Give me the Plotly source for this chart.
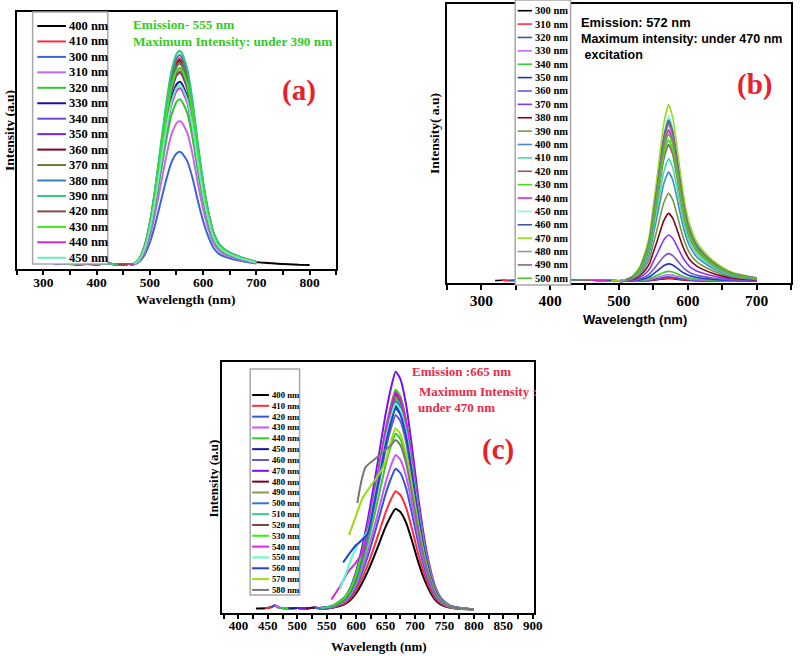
import plotly.graph_objects as go

W, H = 803, 656          # target window (body margin removed below)

# ---------------- Panel (a) data ----------------
ex_a = [400, 410, 300, 310, 320, 330, 340, 350, 360, 370, 380, 390, 420, 430, 440, 450]
col_a = ['#000000', '#ff2a3a', '#3a64d8', '#c866f2', '#2ec82e', '#14149a', '#6a4ad0', '#7a22ea',
         '#86002e', '#6b7a32', '#3a7ec0', '#30c87a', '#8a4a4a', '#3ee61e', '#d02ad0', '#66eebb']
peak_a = [0.81, 0.817, 0.448, 0.570, 0.655, 0.725, 0.76, 0.797, 0.778, 0.80, 0.83, 0.847,
          0.764, 0.78, 0.699, 0.712]
base_wl_a = [320, 340, 360, 380, 400, 420, 440, 460]
base_val_a = [0.004, 0.006, 0.003, 0.005, 0.004, 0.006, 0.003, 0.005]
wl_a = [470, 480, 490, 500, 510, 520, 530, 540, 550, 556, 560, 570, 580, 590, 600, 610, 620,
        630, 640, 650, 660, 670, 680, 690, 700]
prof_a = [0.006, 0.03, 0.09, 0.2, 0.36, 0.55, 0.74, 0.9, 0.985, 1.0, 0.99, 0.92, 0.77, 0.57, 0.39,
          0.25, 0.15, 0.1, 0.075, 0.06, 0.048, 0.038, 0.03, 0.022, 0.015]
tail_wl_a = [720, 740, 760, 780, 800]
tail_val_a = [0.009, 0.006, 0.004, 0.002, 0.001]

# ---------------- Panel (b) data ----------------
ex_b = [300, 310, 320, 330, 340, 350, 360, 370, 380, 390, 400, 410, 420, 430, 440, 450, 460,
        470, 480, 490, 500]
col_b = ['#000000', '#ff2a3a', '#3355cc', '#cc66ee', '#33cc33', '#2233cc', '#7755cc', '#8833ee',
         '#880022', '#779944', '#4488cc', '#44ddaa', '#995566', '#44dd22', '#dd22cc', '#77ffdd',
         '#4455aa', '#99dd22', '#8899aa', '#886688', '#55bb33']
peak_b = [0.01, 0.012, 0.016, 0.024, 0.036, 0.063, 0.10, 0.167, 0.245, 0.317, 0.394, 0.442,
          0.493, 0.51, 0.546, 0.594, 0.582, 0.637, 0.565, 0.574, 0.532]
base_wl_b = [320, 330, 340, 360, 380, 400, 420, 440, 460, 480, 490]
base_val_b = [0.003, 0.004, 0.003, 0.004, 0.003, 0.004, 0.003, 0.005, 0.004, 0.003, 0.004]
wl_b = [500, 510, 520, 530, 540, 545, 550, 555, 560, 565, 572, 578, 583, 590, 595, 602, 612,
        621, 636, 650, 665, 680, 700]
prof_b = [0.004, 0.01, 0.03, 0.08, 0.19, 0.28, 0.43, 0.58, 0.74, 0.89, 1.0, 0.93, 0.8, 0.59, 0.46,
          0.33, 0.23, 0.18, 0.12, 0.08, 0.05, 0.035, 0.02]

# ---------------- Panel (c) data ----------------
ex_c = [400, 410, 420, 430, 440, 450, 460, 470, 480, 490, 500, 510, 520, 530, 540, 550, 560,
        570, 580]
col_c = ['#000000', '#ff2a3a', '#3355dd', '#cc55ff', '#33cc22', '#1a1a99', '#6655dd', '#7711ee',
         '#770022', '#889955', '#3377cc', '#33cc88', '#774444', '#33ee11', '#dd22dd', '#55ffcc',
         '#2244cc', '#99dd11', '#777777']
peak_c = [0.406, 0.477, 0.568, 0.624, 0.71, 0.822, 0.786, 0.961, 0.873, 0.853, 0.842, 0.863,
          0.868, 0.889, 0.88, 0.832, 0.812, 0.731, 0.685]
base_wl_c = [430, 445, 455, 462, 470, 485, 500, 515, 530]
base_val_c = [0.003, 0.004, 0.008, 0.015, 0.006, 0.004, 0.005, 0.004, 0.006]
wl_c = [540, 560, 580, 590, 600, 610, 620, 630, 640, 650, 660, 667, 675, 685, 695, 705, 715,
        725, 735, 745, 760, 780, 800]
prof_c = [0.006, 0.015, 0.05, 0.09, 0.16, 0.26, 0.38, 0.52, 0.67, 0.82, 0.94, 1.0, 0.97, 0.86,
          0.68, 0.48, 0.31, 0.18, 0.09, 0.045, 0.015, 0.004, 0.0]
# curves excited near the emission band start high on the blue side
lead_ex_c = [540, 550, 560, 570, 580]
lead_wl_c = [[558, 572, 586, 600], [572, 582, 591, 605], [578, 590, 600, 610],
             [588, 600, 611, 625, 640], [602, 609, 616, 633, 650, 660]]
lead_val_c = [[0.04, 0.09, 0.15, 0.19], [0.08, 0.14, 0.2, 0.27], [0.19, 0.23, 0.26, 0.28],
              [0.30, 0.38, 0.45, 0.50, 0.55], [0.43, 0.52, 0.575, 0.61, 0.645, 0.665]]
lead_join_c = [610, 620, 620, 650, 667]


def px(x):
    return x / W


def py(y):
    return 1 - y / H


fig = go.Figure()
SM = 0.5

# ---- traces (a)
for ex, c, pk in zip(ex_a, col_a, peak_a):
    start = ex + 20
    xs = [w for w in base_wl_a if w >= start]
    ys = [v for w, v in zip(base_wl_a, base_val_a) if w >= start]
    xs += wl_a
    ys += [pk * p for p in prof_a]
    if ex == 400:
        xs += tail_wl_a
        ys += tail_val_a
    fig.add_trace(go.Scatter(x=xs, y=ys, mode='lines', line=dict(color=c, width=2, shape='spline', smoothing=SM),
                             xaxis='x', yaxis='y', showlegend=False, name=f'{ex} nm'))

# ---- traces (b)
for ex, c, pk in zip(ex_b, col_b, peak_b):
    start = ex + 20
    xs = [w for w in base_wl_b if w >= start]
    ys = [v for w, v in zip(base_wl_b, base_val_b) if w >= start]
    xs += [w for w in wl_b if w >= start]
    ys += [pk * p for w, p in zip(wl_b, prof_b) if w >= start]
    fig.add_trace(go.Scatter(x=xs, y=ys, mode='lines', line=dict(color=c, width=1.6, shape='spline', smoothing=SM),
                             xaxis='x2', yaxis='y2', showlegend=False, name=f'{ex} nm'))

# ---- traces (c)
for ex, c, pk in zip(ex_c, col_c, peak_c):
    if ex in lead_ex_c:
        k = lead_ex_c.index(ex)
        xs = list(lead_wl_c[k])
        ys = list(lead_val_c[k])
        join = lead_join_c[k]
    else:
        start = max(430, ex + 30)
        xs = [w for w in base_wl_c if w >= start]
        ys = [v for w, v in zip(base_wl_c, base_val_c) if w >= start]
        join = start
    xs += [w for w in wl_c if w >= join]
    ys += [pk * p for w, p in zip(wl_c, prof_c) if w >= join]
    fig.add_trace(go.Scatter(x=xs, y=ys, mode='lines', line=dict(color=c, width=2, shape='spline', smoothing=SM),
                             xaxis='x3', yaxis='y3', showlegend=False, name=f'{ex} nm'))

SERIF = 'Liberation Serif'
SANS = 'Liberation Sans'


def xax(dom, ydom_anchor, rng, dtick, minor, fsize, tlen, stand):
    return dict(domain=dom, anchor=ydom_anchor, range=rng, dtick=dtick, tick0=0,
                showline=True, linecolor='black', linewidth=2, mirror=True,
                ticks='outside', ticklen=tlen, tickwidth=2, tickcolor='black',
                ticklabelstandoff=stand,
                minor=dict(ticks='outside', ticklen=tlen, tickwidth=1.5, dtick=minor, tickcolor='black'),
                showgrid=False, zeroline=False,
                tickfont=dict(family=SERIF, size=fsize, color='black', weight='bold'))


def yax(dom, xanchor, rng):
    return dict(domain=dom, anchor=xanchor, range=rng, showline=True, linecolor='black',
                linewidth=2, mirror=True, ticks='', showticklabels=False, showgrid=False,
                zeroline=False)


fig.update_layout(
    width=W, height=H, margin=dict(l=0, r=0, t=0, b=0),
    paper_bgcolor='white', plot_bgcolor='white', showlegend=False,
    xaxis=xax([px(17), px(340)], 'y', [250, 850], 100, 50, 13.5, 4, -4),
    yaxis=yax([py(269), py(12)], 'x', [-0.015, 1.0]),
    xaxis2=xax([px(452), px(800)], 'y2', [250, 750], 100, 50, 15.5, 5, -3),
    yaxis2=yax([py(283), py(4)], 'x2', [-0.006, 1.0]),
    xaxis3=xax([px(225), px(540)], 'y3', [373, 902], 50, 25, 13, 4, -5),
    yaxis3=yax([py(613), py(362)], 'x3', [-0.015, 1.0]),
)

shapes = []
annots = []


def legend(box, labels, colors, y0, dy, lx0, lx1, tx, fsize, lw):
    shapes.append(dict(type='rect', xref='paper', yref='paper', x0=px(box[0]), x1=px(box[1]),
                       y0=py(box[3]), y1=py(box[2]), fillcolor='white',
                       line=dict(color='#a8a8a8', width=1.5), layer='above'))
    for i, (lab, c) in enumerate(zip(labels, colors)):
        yy = y0 + dy * i
        shapes.append(dict(type='line', xref='paper', yref='paper', x0=px(lx0), x1=px(lx1),
                           y0=py(yy), y1=py(yy), line=dict(color=c, width=lw), layer='above'))
        annots.append(dict(xref='paper', yref='paper', x=px(tx), y=py(yy), xanchor='left',
                           yanchor='middle', showarrow=False, text=f'{lab} nm',
                           font=dict(family=SERIF, size=fsize, color='black', weight='bold')))


legend((33, 109, 12, 264), ex_a, col_a, 26, 15.45, 37.7, 66.7, 67.5, 12.5, 2)
legend((521, 577, 0, 285), ex_b, col_b, 10.7, 13.38, 523.5, 538, 539, 10.5, 1.6)
legend((253, 303, 369, 595), ex_c, col_c, 395, 10.83, 255, 272, 273, 8.7, 2)


def text(x, y, s, fam, size, color, xanchor='left', angle=0):
    annots.append(dict(xref='paper', yref='paper', x=px(x), y=py(y), xanchor=xanchor,
                       yanchor='middle', showarrow=False, text=s, textangle=angle,
                       font=dict(family=fam, size=size, color=color, weight='bold')))


GREEN = '#33cc22'
RED = '#e8202a'
CRIMSON = '#ee2a4a'
# panel (a)
text(132, 25, 'Emission- 555 nm', SERIF, 13.3, GREEN)
text(132, 42, 'Maximum Intensity: under 390 nm', SERIF, 13.3, GREEN)
text(302, 91, '(a)', SERIF, 29, RED, 'center')
text(188, 299, 'Wavelength (nm)', SERIF, 13.5, 'black', 'center')
text(9, 130, 'Intensity (a.u)', SERIF, 13.5, 'black', 'center', -90)
# panel (b)
text(586, 23, 'Emission: 572 nm', SANS, 12.9, 'black')
text(586, 39, 'Maximum intensity: under 470 nm', SANS, 12.5, 'black')
text(586, 55, ' excitation', SANS, 12.5, 'black')
text(763, 84, '(b)', SERIF, 29, RED, 'center')
text(642, 319, 'Wavelength (nm)', SANS, 13, 'black', 'center')
text(440, 134, 'Intensity( a.u)', SERIF, 13.5, 'black', 'center', -90)
# panel (c)
text(415, 372, 'Emission :665 nm', SERIF, 13, CRIMSON)
text(422, 391, 'Maximum Intensity :', SERIF, 13, CRIMSON)
text(421, 407, 'under 470 nm', SERIF, 13, CRIMSON)
text(504, 449, '(c)', SERIF, 29, RED, 'center')
text(383, 646, 'Wavelength (nm)', SERIF, 13, 'black', 'center')
text(215, 479, 'Intensity (a.u)', SERIF, 13, 'black', 'center', -90)

fig.update_layout(shapes=shapes, annotations=annots)
fig.write_html('out.html', config={'displayModeBar': False},
               post_script="document.body.style.margin='0';document.body.style.overflow='hidden';")
